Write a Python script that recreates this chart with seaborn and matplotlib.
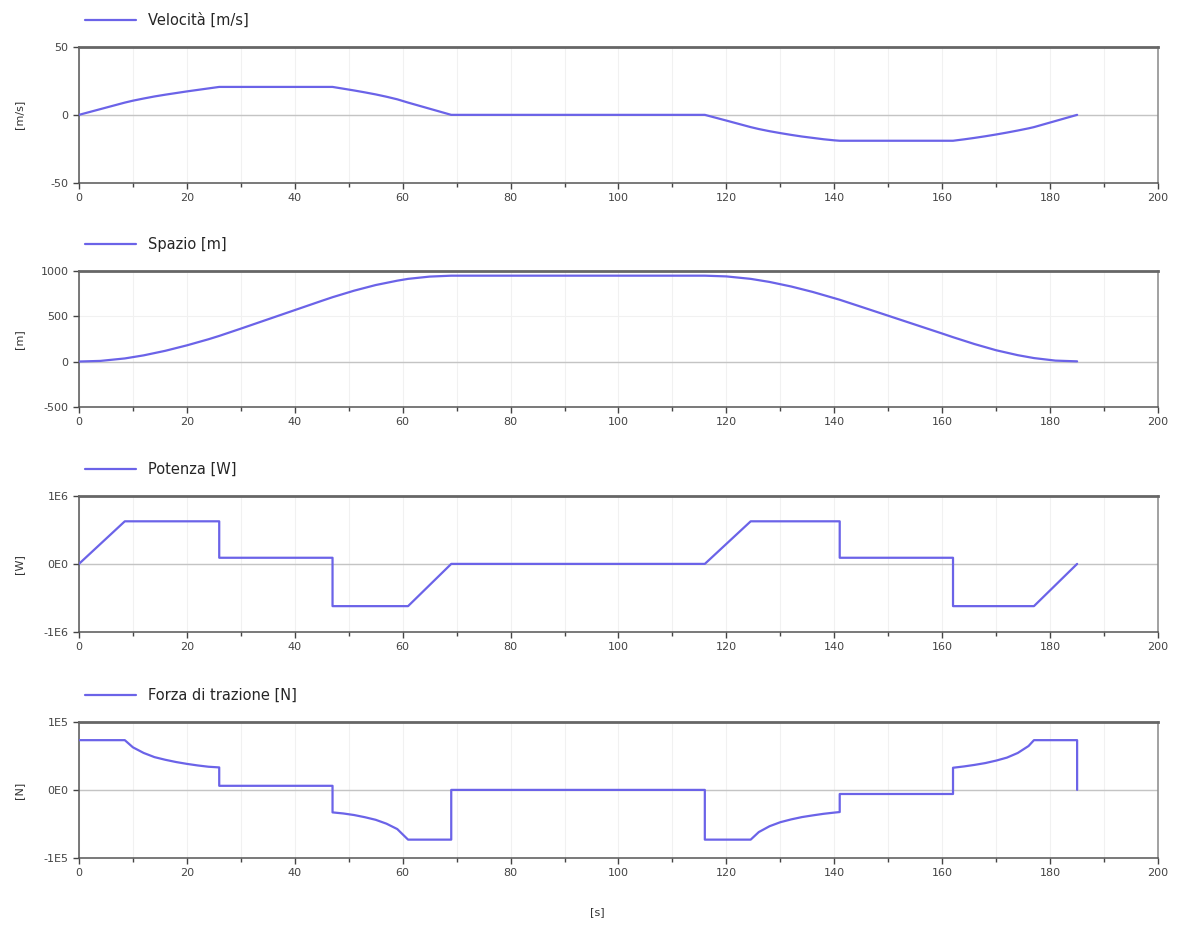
import numpy as np
import seaborn as sns
import matplotlib.pyplot as plt
from matplotlib.ticker import MultipleLocator

# velocity [m/s]
t_vel = [0, 8.5, 10, 12, 14, 16, 18, 20, 22, 24, 26, 47, 49, 51, 53, 55, 57, 59, 61, 65, 69,
         116, 120, 124.5, 126, 128, 130, 132, 134, 136, 138, 140, 141, 162, 164, 166, 168, 170,
         172, 174, 176, 177, 181, 185]
vel = [0, 9, 10.4, 12.0, 13.5, 14.8, 16.0, 17.2, 18.3, 19.4, 20.5, 20.5, 19.2, 17.9, 16.5, 15.0,
       13.3, 11.4, 9, 4.5, 0, 0, -4.2, -9, -10.4, -12.0, -13.4, -14.7, -15.9, -16.9, -17.9, -18.7,
       -19, -19, -18.0, -16.9, -15.7, -14.4, -13.0, -11.5, -9.9, -9, -4.5, 0]

# position [m]
t_pos = [0, 4, 8.5, 12, 16, 20, 24, 26, 30, 35, 40, 45, 47, 51, 55, 59, 61, 65, 69, 116, 120,
         124.5, 128, 132, 136, 141, 145, 150, 155, 160, 162, 166, 170, 174, 177, 181, 185]
pos = [0, 7, 34, 68, 118, 178, 245, 282, 362, 464, 566, 668, 708, 780, 842, 890, 910, 935, 945,
       945, 937, 910, 876, 826, 766, 680, 602, 504, 406, 308, 268, 192, 124, 70, 38, 10, 2]

# power [W]
t_pow = [0, 8.5, 26, 26, 47, 47, 61, 69, 116, 124.5, 141, 141, 162, 162, 177, 185]
powr = [0, 625000, 625000, 90000, 90000, -620000, -620000, 0, 0, 625000, 625000, 90000, 90000,
        -620000, -620000, 0]

# traction force [N]
t_frc = [0, 8.5, 10, 12, 14, 16, 18, 20, 22, 24, 26, 26, 47, 47, 49, 51, 53, 55, 57, 59, 61, 69,
         69, 116, 116, 124.5, 126, 128, 130, 132, 134, 136, 138, 140, 141, 141, 162, 162, 164, 166,
         168, 170, 172, 174, 176, 177, 185, 185]
frc = [73000, 73000, 62500, 54200, 48100, 44200, 40900, 38200, 35900, 34000, 33000, 6000, 6000,
       -33000, -34600, -36900, -40100, -43900, -49600, -57500, -73000, -73000, 0, 0, -73000,
       -73000, -61900, -53300, -47400, -43300, -39900, -37400, -35100, -33300, -32500, -6000,
       -6000, 32500, 34400, 36700, 39400, 43000, 47400, 54200, 64400, 73000, 73000, 0]

panels = [
    (t_vel, vel, "Velocità [m/s]", "[m/s]", [-50, 0, 50], ["-50", "0", "50"]),
    (t_pos, pos, "Spazio [m]", "[m]", [-500, 0, 500, 1000], ["-500", "0", "500", "1000"]),
    (t_pow, powr, "Potenza [W]", "[W]", [-1e6, 0, 1e6], ["-1E6", "0E0", "1E6"]),
    (t_frc, frc, "Forza di trazione [N]", "[N]", [-1e5, 0, 1e5], ["-1E5", "0E0", "1E5"]),
]

sns.set_theme(style="white")
plt.rcParams['font.family'] = ['DejaVu Sans']

fig = plt.figure(figsize=(11.8, 9.27), dpi=100)
bottoms = [0.8026, 0.5610, 0.3182, 0.0744]
line_col = "#6b63e8"

for (tt, yy, name, unit, yt, ylab), b in zip(panels, bottoms):
    ax = fig.add_axes([0.0669, b, 0.9145, 0.147])
    ax.axhline(0, color="#c4c4c4", lw=1, zorder=1)
    sns.lineplot(x=tt, y=yy, ax=ax, estimator=None, sort=False, color=line_col,
                 lw=1.6, label=name, zorder=3)
    ax.set_xlim(0, 200)
    ax.set_ylim(yt[0], yt[-1])
    ax.set_yticks(yt)
    ax.set_yticklabels(ylab)
    ax.xaxis.set_major_locator(MultipleLocator(20))
    ax.xaxis.set_minor_locator(MultipleLocator(10))
    ax.grid(True, which="both", axis="x", color="#f1f1f1", lw=0.8)
    ax.grid(True, which="major", axis="y", color="#f1f1f1", lw=0.8)
    ax.tick_params(axis="both", which="both", direction="out", colors="#444444",
                   labelsize=8, length=4, width=1, left=True, bottom=True)
    ax.tick_params(axis="x", which="minor", length=3)
    for s in ["left", "bottom"]:
        ax.spines[s].set_color("#555555")
        ax.spines[s].set_linewidth(1.1)
    ax.spines["right"].set_color("#888888")
    ax.spines["right"].set_linewidth(1.1)
    ax.spines["top"].set_color("#666666")
    ax.spines["top"].set_linewidth(2)
    ax.set_ylabel(unit, fontsize=8, color="#333333")
    ax.yaxis.set_label_coords(-0.051, 0.5)
    ax.set_xlabel("")
    ax.legend(loc="lower left", bbox_to_anchor=(-0.012, 1.0), frameon=False, fontsize=10.5,
              handlelength=3.5, borderaxespad=1.1, borderpad=0.2)

ax.set_xlabel("[s]", fontsize=8, color="#333333")
ax.xaxis.set_label_coords(0.48, -0.36)

fig.savefig("out.png", dpi=100, facecolor="white")
